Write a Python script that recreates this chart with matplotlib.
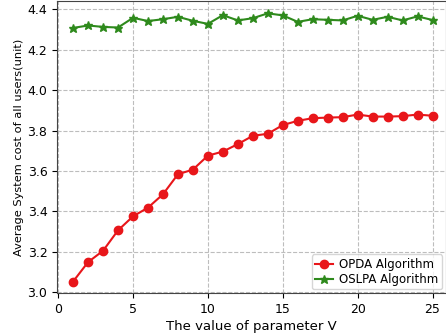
import matplotlib
matplotlib.use("Agg")
import matplotlib.pyplot as plt

v = list(range(1, 26))
opda = [3.054, 3.150, 3.206, 3.307, 3.376, 3.419, 3.485, 3.584, 3.607, 3.676,
        3.696, 3.733, 3.774, 3.784, 3.827, 3.848, 3.861, 3.864, 3.866, 3.879,
        3.869, 3.869, 3.871, 3.879, 3.873]
oslpa = [4.307, 4.319, 4.312, 4.309, 4.357, 4.341, 4.350, 4.362, 4.342, 4.327,
         4.370, 4.344, 4.355, 4.379, 4.369, 4.337, 4.350, 4.347, 4.344, 4.367,
         4.347, 4.362, 4.344, 4.364, 4.346]

fig = plt.figure(figsize=(4.46, 3.35), dpi=100)
ax = fig.add_axes([0.128, 0.124, 0.872, 0.873])

ax.plot(v, opda, color="#e8161a", marker="o", markersize=6, linewidth=1.5,
        label="OPDA Algorithm")
ax.plot(v, oslpa, color="#2e8a1c", marker="*", markersize=6.3, linewidth=1.5,
        label="OSLPA Algorithm")

ax.set_xlim(-0.07, 25.9)
ax.set_ylim(2.995, 4.44)
ax.set_xticks([0, 5, 10, 15, 20, 25])
ax.set_yticks([3.0, 3.2, 3.4, 3.6, 3.8, 4.0, 4.2, 4.4])
ax.grid(True, linestyle="--", color="#bdbdbd", linewidth=0.8)
for s in ax.spines.values():
    s.set_color("#444444")

ax.set_xlabel("The value of parameter V", fontsize=9.5, labelpad=3)
ax.set_ylabel("Average System cost of all users(unit)", fontsize=8.2, labelpad=2.5)
ax.tick_params(labelsize=9)
ax.legend(loc="lower right", fontsize=8.5, labelspacing=0.15, borderpad=0.3,
          handletextpad=0.5, handlelength=1.5, borderaxespad=0.35)

fig.savefig("out.png", dpi=100)
